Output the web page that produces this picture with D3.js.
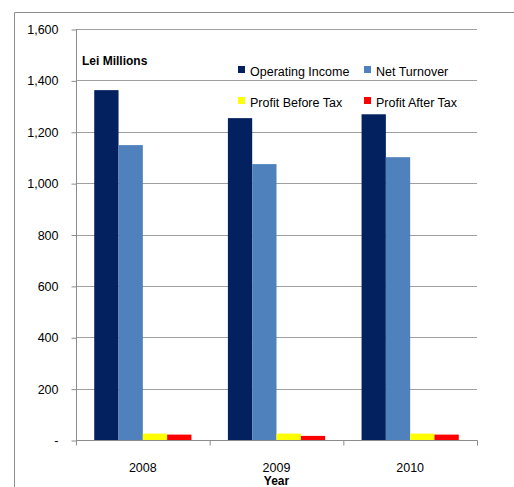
<!DOCTYPE html>
<html>
<head>
<meta charset="utf-8">
<script src="https://cdn.jsdelivr.net/npm/d3@7"></script>
<style>
	body { margin: 0; background: #fff; }
	svg text { font-family: "Liberation Sans", Arial, sans-serif; fill: #000; }
</style>
</head>
<body>
<script>
// chart data
var years = ["2008", "2009", "2010"];
var seriesNames = ["Operating Income", "Net Turnover", "Profit Before Tax", "Profit After Tax"];
var operatingIncome = [1362, 1253, 1268];
var netTurnover = [1148, 1074, 1101];
var profitBeforeTax = [25, 25, 25];
var profitAfterTax = [21, 16, 21];
var yTicks = [0, 200, 400, 600, 800, 1000, 1200, 1400, 1600];

(function(){
	const Config = {
		svg: {Width: 514, Height: 487},
		plot: {left: 76, right: 477, top: 29, bottom: 440},
		colors: ["#03215f", "#4f81bd", "#ffff00", "#ff0000"]
	};
	var values = [operatingIncome, netTurnover, profitBeforeTax, profitAfterTax];
	var rows = years.map(function(y, i){
		return {year: y, vals: values.map(function(v){ return v[i]; })};
	});

	var svg = d3.select('body').append('svg')
		.attr('width', Config.svg.Width)
		.attr('height', Config.svg.Height);

	// outer chart frame (top + left only visible)
	svg.append('line').attr('x1', 14.5).attr('x2', 514).attr('y1', 12.5).attr('y2', 12.5)
		.attr('stroke', '#8c8c8c').attr('stroke-width', 1);
	svg.append('line').attr('x1', 14.5).attr('x2', 14.5).attr('y1', 12.5).attr('y2', 487)
		.attr('stroke', '#8c8c8c').attr('stroke-width', 1);

	var scaleX = d3.scaleBand().domain(years)
		.range([Config.plot.left, Config.plot.right]).paddingInner(0).paddingOuter(0);
	var scaleS = d3.scaleBand().domain(seriesNames)
		.range([0, scaleX.bandwidth()]).paddingOuter(0.75).paddingInner(0);
	var scaleY = d3.scaleLinear().domain([0, 1600])
		.range([Config.plot.bottom, Config.plot.top]);

	// gridlines
	svg.append('g').selectAll('line')
		.data(yTicks.slice(1))
		.enter().append('line')
			.attr('x1', Config.plot.left).attr('x2', Config.plot.right)
			.attr('y1', function(d){ return Math.round(scaleY(d)) + 0.5; })
			.attr('y2', function(d){ return Math.round(scaleY(d)) + 0.5; })
			.attr('stroke', '#a0a0a0').attr('stroke-width', 1);

	// bars
	var groups = svg.append('g').selectAll('g')
		.data(rows)
		.enter().append('g')
			.attr('transform', function(d){ return 'translate(' + scaleX(d.year) + ',0)'; });
	groups.selectAll('rect')
		.data(function(d){ return d.vals.map(function(v, k){ return {name: seriesNames[k], v: v, k: k}; }); })
		.enter().append('rect')
			.attr('x', function(d){ return scaleS(d.name); })
			.attr('y', function(d){ return scaleY(d.v); })
			.attr('width', scaleS.bandwidth())
			.attr('height', function(d){ return scaleY(0) - scaleY(d.v); })
			.attr('fill', function(d){ return Config.colors[d.k]; });

	// y axis
	var axisY = svg.append('g')
		.attr('transform', 'translate(' + (Config.plot.left + 0.5) + ',0.5)')
		.call(d3.axisLeft(scaleY).tickValues(yTicks).tickSize(5).tickPadding(13)
			.tickFormat(function(d){ return d === 0 ? '-' : d3.format(',')(d); }));
	axisY.select('.domain').attr('stroke', '#8c8c8c').attr('d', 'M0,' + (Config.plot.top - 0.5) + 'V' + (Config.plot.bottom));
	axisY.selectAll('.tick line').attr('stroke', '#8c8c8c');
	axisY.selectAll('text').attr('font-size', 12.5).attr('font-family', null);

	// x axis
	var axisX = svg.append('g')
		.attr('transform', 'translate(0,' + (Config.plot.bottom + 0.5) + ')');
	axisX.append('line').attr('x1', Config.plot.left).attr('x2', Config.plot.right + 0.5)
		.attr('stroke', '#8c8c8c');
	axisX.selectAll('.xtick')
		.data(years.concat(['end']))
		.enter().append('line')
			.attr('x1', function(d){ return (d === 'end' ? Config.plot.right : scaleX(d)) + 0.5; })
			.attr('x2', function(d){ return (d === 'end' ? Config.plot.right : scaleX(d)) + 0.5; })
			.attr('y1', 0).attr('y2', 5)
			.attr('stroke', '#8c8c8c');
	axisX.selectAll('.xlabel')
		.data(years)
		.enter().append('text')
			.attr('x', function(d){ return scaleX(d) + scaleX.bandwidth() / 2; })
			.attr('y', 31)
			.attr('text-anchor', 'middle')
			.attr('font-size', 12.5)
			.text(function(d){ return d; });

	svg.append('text')
		.attr('x', (Config.plot.left + Config.plot.right) / 2)
		.attr('y', 485)
		.attr('text-anchor', 'middle')
		.attr('font-size', 12).attr('font-weight', 'bold')
		.text('Year');

	svg.append('text')
		.attr('x', 82).attr('y', 65)
		.attr('font-size', 12).attr('font-weight', 'bold')
		.text('Lei Millions');

	// legend
	var legendPos = [[238, 66], [364, 66], [238, 97], [364, 97]];
	var legend = svg.append('g').selectAll('g')
		.data(seriesNames)
		.enter().append('g')
			.attr('transform', function(d, i){ return 'translate(' + legendPos[i][0] + ',' + legendPos[i][1] + ')'; });
	legend.append('rect')
		.attr('width', 7).attr('height', 7)
		.attr('fill', function(d, i){ return Config.colors[i]; });
	legend.append('text')
		.attr('x', 12).attr('y', 10)
		.attr('font-size', 12.5)
		.text(function(d){ return d; });
})();
</script>
</body>
</html>
